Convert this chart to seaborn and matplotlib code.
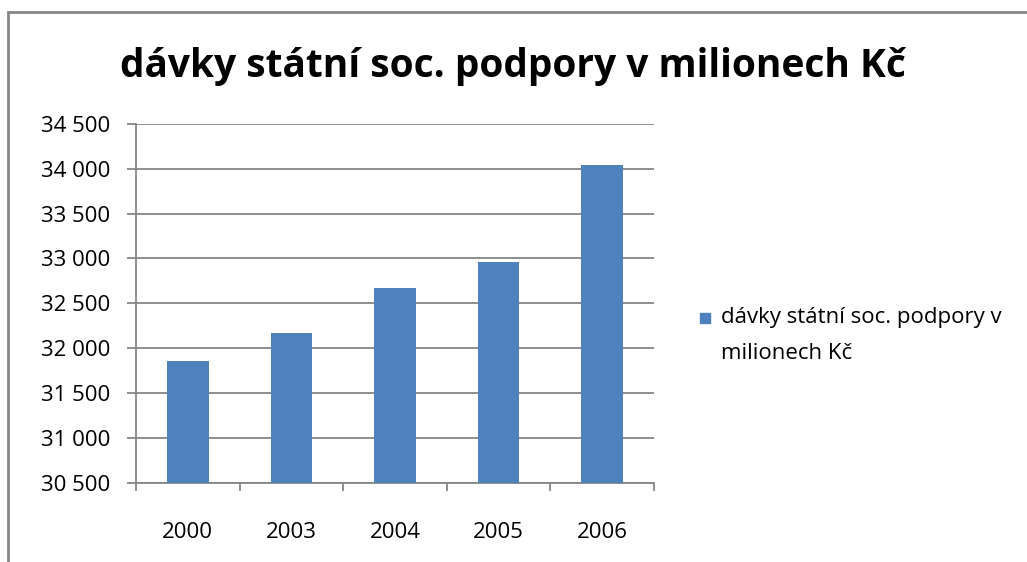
import matplotlib
matplotlib.use('Agg')
import matplotlib.pyplot as plt
import matplotlib.ticker as mticker
from matplotlib.patches import Rectangle
from matplotlib.legend_handler import HandlerPatch
import seaborn as sns

# data
years = ['2000', '2003', '2004', '2005', '2006']
values = [31854, 32174, 32666, 32956, 34042]
series_name = 'dávky státní soc. podpory v\nmilionech Kč'
title = 'dávky státní soc. podpory v milionech Kč'
y_ticks = [30500, 31000, 31500, 32000, 32500, 33000, 33500, 34000, 34500]

sns.set_style('white')
plt.rcParams['font.family'] = ['Open Sans', 'DejaVu Sans']
plt.rcParams['text.color'] = 'black'
plt.rcParams['xtick.color'] = 'black'
plt.rcParams['ytick.color'] = 'black'

grey = '#868686'
blue = '#4F81BD'
fs = 16

fig = plt.figure(figsize=(10.27, 5.62), dpi=100)
ax = fig.add_axes([136 / 1027, 1 - 483 / 562, (654 - 136) / 1027, (483 - 123.7) / 562])

sns.barplot(x=years, y=values, color=blue, width=0.4, saturation=1, linewidth=0,
            ax=ax, zorder=3)

ax.set_ylim(30500, 34500)
ax.set_xlim(-0.5, 4.5)
ax.set_yticks(y_ticks)
ax.yaxis.set_major_formatter(mticker.FuncFormatter(lambda v, p: f'{int(v):,}'.replace(',', ' ')))
ax.grid(axis='y', color=grey, linewidth=1.3, zorder=0)
ax.set_axisbelow(True)

# ticks on the category boundaries, labels in the middle
ax.set_xticks([i - 0.5 for i in range(len(years) + 1)])
ax.set_xticklabels([])
ax.set_xticks(range(len(years)), minor=True)
ax.set_xticklabels(years, minor=True)
ax.tick_params(axis='x', which='major', direction='out', length=6, width=1.3,
               color=grey, bottom=True)
ax.tick_params(axis='x', which='minor', length=0, pad=28, labelsize=fs)
ax.tick_params(axis='y', direction='out', length=6.5, width=1.3, color=grey,
               left=True, pad=12, labelsize=fs)

for s in ['top', 'right']:
    ax.spines[s].set_visible(False)
for s in ['left', 'bottom']:
    ax.spines[s].set_color(grey)
    ax.spines[s].set_linewidth(1.3)
ax.set_xlabel('')
ax.set_ylabel('')

fig.text(513 / 1027, 1 - 66 / 562, title, ha='center', va='center',
         fontsize=28, fontweight='bold')


def top_square(legend, orig_handle, xdescent, ydescent, width, height, fontsize):
    sq = 7.5
    return Rectangle((-xdescent, -ydescent + height - sq + 1), sq, sq)


leg = ax.legend(handles=[Rectangle((0, 0), 1, 1, color=blue)], labels=[series_name],
                loc='upper left', bbox_to_anchor=(700 / 1027, 1 - 307 / 562),
                bbox_transform=fig.transFigure, frameon=False, fontsize=fs,
                handlelength=0.6, handleheight=2.8, handletextpad=0.35,
                borderaxespad=0, borderpad=0,
                handler_map={Rectangle: HandlerPatch(patch_func=top_square)})
for t in leg.get_texts():
    t.set_linespacing(1.95)

# outer chart frame
fig.patches.append(Rectangle((8 / 1027, -0.05), 1.1, 1 - 11.5 / 562 + 0.05,
                             transform=fig.transFigure, fill=False,
                             edgecolor=grey, linewidth=2))

fig.savefig('out.png', dpi=100)
